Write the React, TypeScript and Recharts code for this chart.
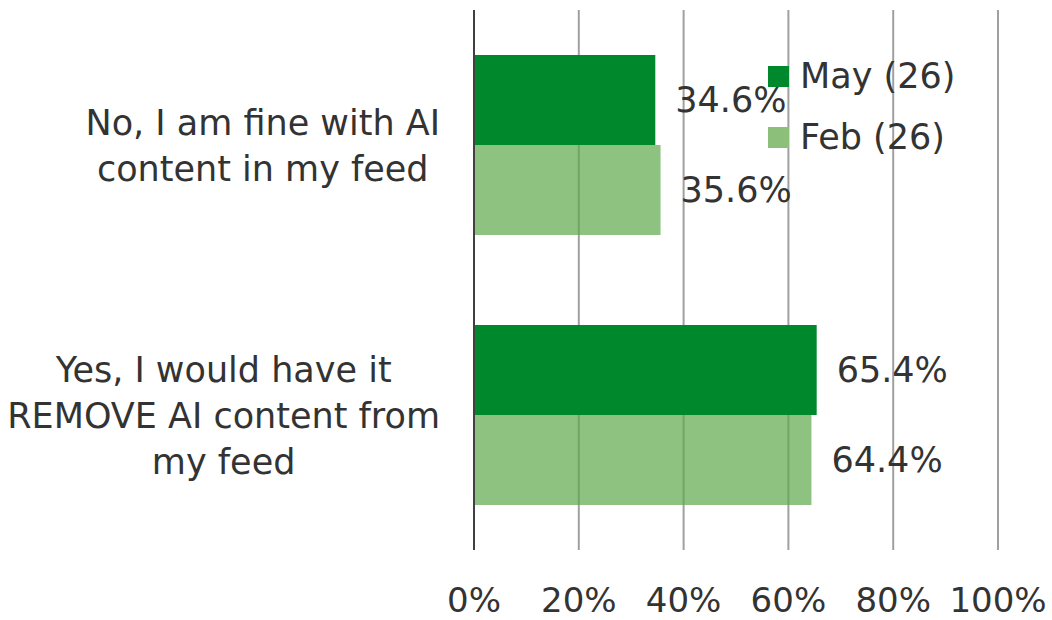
import { Bar, BarChart, CartesianGrid, LabelList, XAxis, YAxis } from "recharts";

const categoryLines = [
  ["No, I am fine with AI", "content in my feed"],
  ["Yes, I would have it", "REMOVE AI content from", "my feed"],
];
const categories = categoryLines.map((l) => l.join(" "));
const mayValues = [34.6, 65.4];
const febValues = [35.6, 64.4];
const seriesNames = ["May (26)", "Feb (26)"];
const xTicks = [0, 20, 40, 60, 80, 100];

const FONT = '"DejaVu Sans", Verdana, sans-serif';
const TEXT = "#333333";
const MAY = "#00882c";
const FEB = "#8cbf7a";

const data = categories.map((name, i) => ({
  name,
  may: mayValues[i],
  feb: febValues[i],
}));

let ctx: CanvasRenderingContext2D | null = null;
function textWidth(s: string, size: number) {
  if (!ctx) ctx = document.createElement("canvas").getContext("2d");
  if (!ctx) return s.length * size * 0.55;
  ctx.font = `${size}px "DejaVu Sans"`;
  return ctx.measureText(s).width;
}

function CategoryTick({ x, y, payload }: any) {
  const idx = categories.indexOf(payload.value);
  const lines = categoryLines[idx] || [payload.value];
  const widest = Math.max(...lines.map((l) => textWidth(l, 35)));
  const cx = x - widest / 2;
  const lh = 46;
  return (
    <g>
      {lines.map((l, i) => (
        <text
          key={i}
          x={cx}
          y={y + (i - (lines.length - 1) / 2) * lh + 13}
          textAnchor="middle"
          fontSize={35}
          fontFamily={FONT}
          fill={TEXT}
        >
          {l}
        </text>
      ))}
    </g>
  );
}

function PctTick({ x, y, payload }: any) {
  return (
    <text x={x} y={y + 62} textAnchor="middle" fontSize={34} fontFamily={FONT} fill={TEXT}>
      {payload.value}%
    </text>
  );
}

export default function App() {
  const fills = [MAY, FEB];
  return (
    <div style={{ position: "absolute", left: 0, top: 0, width: 1052, height: 620, background: "#fff" }}>
      <BarChart
        width={1052}
        height={620}
        data={data}
        layout="vertical"
        margin={{ top: 10, right: 54, left: 0, bottom: 0 }}
        barCategoryGap={45}
        barGap={0}
      >
        <CartesianGrid horizontal={false} stroke="#a0a0a0" strokeWidth={2} />
        <XAxis
          type="number"
          domain={[0, 100]}
          ticks={xTicks}
          axisLine={false}
          tickLine={false}
          tickSize={0}
          tickMargin={0}
          height={70}
          tick={<PctTick />}
          interval={0}
        />
        <YAxis
          type="category"
          dataKey="name"
          width={474}
          axisLine={{ stroke: "#404040", strokeWidth: 2 }}
          tickLine={false}
          tickSize={0}
          tickMargin={34}
          tick={<CategoryTick />}
          interval={0}
        />
        <Bar dataKey="may" name={seriesNames[0]} fill={MAY} isAnimationActive={false}>
          <LabelList
            dataKey="may"
            position="right"
            offset={20}
            formatter={(v: any) => `${Number(v).toFixed(1)}%`}
            style={{ fontSize: 35, fontFamily: FONT, fill: TEXT }}
          />
        </Bar>
        <Bar dataKey="feb" name={seriesNames[1]} fill="#5ea84a" fillOpacity={0.7} isAnimationActive={false}>
          <LabelList
            dataKey="feb"
            position="right"
            offset={20}
            formatter={(v: any) => `${Number(v).toFixed(1)}%`}
            style={{ fontSize: 35, fontFamily: FONT, fill: TEXT }}
          />
        </Bar>
      </BarChart>
      <div style={{ position: "absolute", left: 768, top: 56, fontFamily: FONT, fontSize: 35, color: TEXT }}>
        {seriesNames.map((n, i) => (
          <div key={n} style={{ display: "flex", alignItems: "center", height: 40, marginBottom: 21 }}>
            <span style={{ display: "inline-block", width: 21, height: 21, background: fills[i], marginRight: 11 }} />
            <span style={{ lineHeight: "40px" }}>{n}</span>
          </div>
        ))}
      </div>
    </div>
  );
}
